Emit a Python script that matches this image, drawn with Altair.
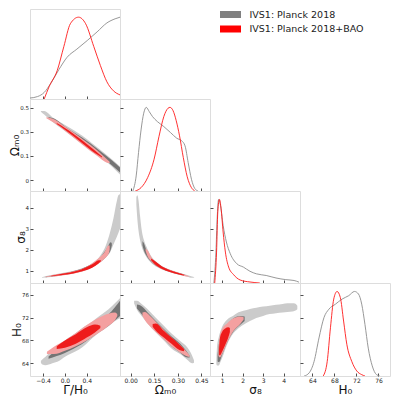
import altair as alt
import pandas as pd

W = 90
HEIGHTS = [90, 92, 92, 93]
FONT = "DejaVu Sans"

PARAM_ORDER = ["gam", "om", "s8", "h0"]
TITLES = {"gam": "Γ/H₀", "om": "Ωₘ₀", "s8": "σ₈", "h0": "H₀"}
DOMAINS = {"gam": [-0.64, 1.01], "om": [-0.068, 0.505], "s8": [0.41, 4.8], "h0": [61.75, 78.1]}
TICKS = {"gam": [-0.4, 0.0, 0.4], "om": [0.0, 0.15, 0.30, 0.45], "s8": [1, 2, 3, 4], "h0": [64, 68, 72, 76]}
XFMT = {"gam": ".1f", "om": ".2f", "s8": "d", "h0": "d"}
YFMT = {"gam": ".1f", "om": "~g", "s8": "d", "h0": "d"}
DENSITY_DOMAIN = [0, 1.1]

SERIES = ["IVS1: Planck 2018", "IVS1: Planck 2018+BAO"]
LINE_COLORS = ["#8c8c8c", "#ff1a1a"]
LEGEND_COLORS = ["#808080", "#ff0000"]
GRAY_FILLS = ["#cbcbcb", "#747474"]   # 2 sigma, 1 sigma
RED_FILLS = ["#f4a0a0", "#ee1c1c"]

# ---- 1D marginal curves (x, normalised density) ----
GAM_GRAY_X = [-0.64, -0.5, -0.38, -0.26, -0.11, 0.04, 0.22, 0.41, 0.59, 0.77, 0.92, 1.01]
GAM_GRAY_D = [0.012, 0.03, 0.08, 0.19, 0.36, 0.51, 0.61, 0.715, 0.82, 0.93, 0.98, 1.0]
GAM_RED_X = [-0.38, -0.29, -0.14, -0.02, 0.10, 0.25, 0.38, 0.53, 0.65, 0.77, 0.89, 1.01]
GAM_RED_D = [0.0, 0.15, 0.35, 0.64, 0.92, 1.0, 0.92, 0.64, 0.41, 0.21, 0.10, 0.05]

OM_GRAY_X = [0.014, 0.035, 0.05, 0.066, 0.083, 0.099, 0.118, 0.139, 0.170, 0.211, 0.253, 0.294, 0.325, 0.346, 0.366, 0.387, 0.408, 0.429]
OM_GRAY_D = [0.0, 0.18, 0.46, 0.73, 0.93, 1.0, 0.95, 0.89, 0.83, 0.77, 0.70, 0.63, 0.60, 0.54, 0.34, 0.14, 0.03, 0.0]
OM_RED_X = [0.029, 0.066, 0.108, 0.149, 0.180, 0.211, 0.238, 0.250, 0.270, 0.29, 0.311, 0.335, 0.36, 0.387, 0.408]
OM_RED_D = [0.0, 0.04, 0.16, 0.38, 0.65, 0.89, 0.99, 1.0, 0.96, 0.84, 0.66, 0.40, 0.17, 0.04, 0.0]

S8_GRAY_X = [0.60, 0.70, 0.76, 0.83, 0.92, 1.05, 1.21, 1.40, 1.72, 2.04, 2.36, 2.67, 3.15, 3.63, 4.11, 4.51, 4.75]
S8_GRAY_D = [0.0, 0.37, 0.77, 1.0, 0.93, 0.69, 0.49, 0.35, 0.23, 0.19, 0.14, 0.11, 0.09, 0.06, 0.04, 0.03, 0.01]
S8_RED_X = [0.64, 0.73, 0.79, 0.87, 0.95, 1.05, 1.16, 1.32, 1.56, 1.88, 2.36, 2.84]
S8_RED_D = [0.0, 0.37, 0.85, 1.0, 0.89, 0.61, 0.37, 0.19, 0.10, 0.036, 0.012, 0.0]

H0_GRAY_X = [62.5, 63.4, 64.3, 65.2, 66.1, 67.0, 68.2, 69.4, 70.6, 71.65, 72.37, 72.96, 73.55, 74.15, 74.87, 75.65, 76.24]
H0_GRAY_D = [0.0, 0.036, 0.17, 0.45, 0.69, 0.79, 0.85, 0.91, 0.95, 1.0, 0.97, 0.85, 0.61, 0.33, 0.12, 0.016, 0.0]
H0_RED_X = [65.97, 66.69, 67.28, 67.88, 68.48, 69.07, 69.67, 70.27, 71.17, 72.06, 72.96, 73.55]
H0_RED_D = [0.0, 0.17, 0.57, 0.91, 1.0, 0.93, 0.65, 0.37, 0.17, 0.06, 0.016, 0.0]

# ---- 2D contour bands: (x, lower y, upper y) ----
OM_GAM_GRAY2 = [(-0.44, 0.426, 0.430), (-0.38, 0.408, 0.430), (-0.23, 0.363, 0.392), (0.01, 0.303, 0.342),
                (0.32, 0.224, 0.276), (0.62, 0.15, 0.196), (0.86, 0.085, 0.13), (1.01, 0.035, 0.085)]
OM_GAM_GRAY1 = [(-0.3, 0.387, 0.393), (-0.2, 0.362, 0.383), (0.0, 0.312, 0.334), (0.32, 0.23, 0.263),
                (0.62, 0.155, 0.188), (0.86, 0.093, 0.123), (1.01, 0.048, 0.078)]
OM_GAM_RED2 = [(-0.34, 0.385, 0.391), (-0.2, 0.357, 0.379), (0.0, 0.307, 0.333), (0.32, 0.22, 0.256),
               (0.6, 0.148, 0.183), (0.76, 0.11, 0.133), (0.82, 0.106, 0.114)]
OM_GAM_RED1 = [(-0.15, 0.349, 0.355), (0.0, 0.313, 0.325), (0.32, 0.23, 0.247), (0.55, 0.169, 0.184), (0.68, 0.141, 0.147)]

S8_GAM_GRAY2 = [(-0.42, 0.66, 0.69), (-0.3, 0.68, 0.77), (-0.1, 0.76, 0.86), (0.1, 0.86, 0.96), (0.3, 0.98, 1.1),
                (0.5, 1.17, 1.35), (0.65, 1.4, 1.72), (0.75, 1.64, 2.2), (0.83, 1.88, 2.85), (0.89, 2.25, 3.5),
                (0.95, 2.6, 4.3), (0.98, 2.8, 4.6), (1.01, 3.0, 4.65)]
S8_GAM_GRAY1 = [(-0.35, 0.69, 0.71), (0.0, 0.80, 0.88), (0.4, 1.05, 1.2), (0.65, 1.42, 1.62), (0.78, 1.75, 2.1),
                (0.84, 2.0, 2.35), (0.86, 2.2, 2.3)]
S8_GAM_RED2 = [(-0.36, 0.69, 0.71), (-0.2, 0.72, 0.80), (0.1, 0.83, 0.93), (0.4, 1.03, 1.18), (0.6, 1.3, 1.55),
               (0.72, 1.55, 1.85), (0.8, 1.8, 2.2), (0.82, 2.0, 2.2)]
S8_GAM_RED1 = [(-0.25, 0.73, 0.76), (0.0, 0.80, 0.87), (0.3, 0.96, 1.06), (0.5, 1.14, 1.3), (0.62, 1.35, 1.5), (0.66, 1.45, 1.5)]

H0_GAM_GRAY2 = [(-0.44, 64.1, 64.4), (-0.41, 63.75, 64.7), (-0.36, 63.65, 65.1), (-0.23, 64.0, 66.4), (-0.11, 64.4, 67.2),
                (0.01, 65.2, 68.1), (0.2, 66.1, 69.3), (0.32, 66.8, 70.2), (0.5, 68.4, 71.3), (0.62, 69.3, 72.2),
                (0.8, 70.5, 73.5), (0.86, 71.0, 74.0), (1.01, 71.9, 75.4)]
H0_GAM_GRAY1 = [(-0.3, 64.8, 65.2), (0.0, 65.8, 67.4), (0.3, 67.3, 69.3), (0.6, 69.3, 71.2), (0.8, 70.6, 72.6), (1.01, 72.3, 75.0)]
H0_GAM_RED2 = [(-0.33, 65.6, 66.0), (-0.2, 65.6, 66.9), (0.0, 66.2, 68.0), (0.2, 67.0, 69.3), (0.4, 68.0, 70.7),
               (0.6, 69.2, 71.9), (0.8, 70.6, 72.7), (0.92, 71.6, 72.9), (0.96, 72.3, 72.6)]
H0_GAM_RED1 = [(-0.15, 66.5, 67.0), (0.0, 66.7, 68.0), (0.2, 67.4, 69.1), (0.4, 68.5, 70.3), (0.55, 69.4, 70.8), (0.65, 70.2, 70.6)]

S8_OM_GRAY2 = [(0.036, 4.15, 4.5), (0.042, 3.5, 4.6), (0.05, 2.9, 4.35), (0.06, 2.45, 3.6), (0.07, 2.15, 2.95),
               (0.085, 1.85, 2.45), (0.1, 1.65, 2.15), (0.13, 1.38, 1.7), (0.17, 1.16, 1.38), (0.22, 0.99, 1.14),
               (0.27, 0.87, 1.0), (0.32, 0.78, 0.88), (0.36, 0.71, 0.79), (0.39, 0.66, 0.72), (0.405, 0.67, 0.69)]
S8_OM_GRAY1 = [(0.075, 2.2, 2.4), (0.085, 1.95, 2.3), (0.1, 1.72, 1.98), (0.13, 1.42, 1.6), (0.17, 1.2, 1.33),
               (0.22, 1.02, 1.11), (0.27, 0.9, 0.97), (0.32, 0.8, 0.86), (0.35, 0.75, 0.79)]
S8_OM_RED2 = [(0.095, 1.95, 2.05), (0.11, 1.65, 1.95), (0.13, 1.45, 1.65), (0.17, 1.2, 1.34), (0.22, 1.02, 1.12),
              (0.27, 0.89, 0.98), (0.32, 0.79, 0.86), (0.36, 0.72, 0.77), (0.375, 0.72, 0.73)]
S8_OM_RED1 = [(0.13, 1.5, 1.58), (0.15, 1.33, 1.48), (0.2, 1.08, 1.2), (0.25, 0.93, 1.02), (0.3, 0.83, 0.9), (0.34, 0.77, 0.8)]

H0_OM_GRAY2 = [(0.022, 74.5, 75.0), (0.04, 73.4, 75.0), (0.07, 72.3, 74.4), (0.108, 71.0, 73.5), (0.16, 69.4, 72.0),
               (0.211, 68.0, 70.6), (0.26, 66.6, 69.2), (0.315, 65.6, 67.9), (0.36, 64.6, 66.8), (0.39, 64.0, 65.4),
               (0.403, 64.1, 64.5)]
H0_OM_GRAY1 = [(0.04, 73.6, 74.3), (0.07, 72.6, 74.0), (0.108, 71.3, 72.9), (0.16, 69.7, 71.4), (0.211, 68.3, 70.0),
               (0.26, 67.0, 68.7), (0.315, 65.9, 67.4), (0.35, 65.1, 66.3), (0.375, 65.0, 65.3)]
H0_OM_RED2 = [(0.075, 72.4, 72.9), (0.09, 71.6, 73.0), (0.12, 70.6, 72.4), (0.16, 69.5, 71.3), (0.211, 68.2, 69.9),
              (0.26, 67.0, 68.5), (0.315, 65.9, 67.2), (0.35, 65.3, 66.2), (0.375, 65.1, 65.4)]
H0_OM_RED1 = [(0.14, 70.4, 70.9), (0.16, 69.7, 71.0), (0.211, 68.5, 69.7), (0.26, 67.4, 68.5), (0.31, 66.3, 67.3), (0.34, 66.1, 66.5)]

H0_S8_GRAY2 = [(0.72, 63.9, 64.5), (0.75, 63.6, 66.8), (0.84, 63.6, 68.6), (0.92, 64.2, 69.6), (1.0, 64.9, 70.4),
               (1.24, 67.26, 71.64), (1.56, 69.3, 72.4), (1.72, 69.9, 72.8), (2.04, 70.76, 73.2), (2.36, 71.4, 73.55),
               (2.67, 71.93, 73.75), (3.0, 72.3, 73.97), (3.32, 72.63, 74.12), (3.63, 72.8, 74.26), (3.95, 72.91, 74.4),
               (4.19, 73.0, 74.55), (4.43, 73.09, 74.55), (4.55, 73.2, 74.5), (4.67, 73.5, 74.1)]
H0_S8_GRAY1 = [(0.78, 64.3, 65.5), (0.85, 64.2, 67.5), (1.0, 65.5, 69.4), (1.24, 67.6, 70.7), (1.56, 69.6, 71.9),
               (1.9, 70.8, 72.3), (2.1, 71.4, 72.2)]
H0_S8_RED2 = [(0.82, 65.3, 66.5), (0.9, 65.0, 69.0), (1.0, 65.6, 70.0), (1.24, 67.6, 71.0), (1.56, 69.7, 71.9),
              (1.9, 71.0, 72.2), (2.05, 71.7, 72.1)]
H0_S8_RED1 = [(0.85, 65.5, 66.5), (0.9, 65.4, 68.5), (1.0, 66.0, 69.5), (1.15, 67.2, 70.1), (1.3, 68.5, 70.3), (1.38, 69.5, 70.2)]

CURVES_1D = {
    "gam": (GAM_GRAY_X, GAM_GRAY_D, GAM_RED_X, GAM_RED_D),
    "om": (OM_GRAY_X, OM_GRAY_D, OM_RED_X, OM_RED_D),
    "s8": (S8_GRAY_X, S8_GRAY_D, S8_RED_X, S8_RED_D),
    "h0": (H0_GRAY_X, H0_GRAY_D, H0_RED_X, H0_RED_D),
}
BANDS_2D = {
    ("om", "gam"): [OM_GAM_GRAY2, OM_GAM_GRAY1, OM_GAM_RED2, OM_GAM_RED1],
    ("s8", "gam"): [S8_GAM_GRAY2, S8_GAM_GRAY1, S8_GAM_RED2, S8_GAM_RED1],
    ("h0", "gam"): [H0_GAM_GRAY2, H0_GAM_GRAY1, H0_GAM_RED2, H0_GAM_RED1],
    ("s8", "om"): [S8_OM_GRAY2, S8_OM_GRAY1, S8_OM_RED2, S8_OM_RED1],
    ("h0", "om"): [H0_OM_GRAY2, H0_OM_GRAY1, H0_OM_RED2, H0_OM_RED1],
    ("h0", "s8"): [H0_S8_GRAY2, H0_S8_GRAY1, H0_S8_RED2, H0_S8_RED1],
}
BAND_FILLS = [GRAY_FILLS[0], GRAY_FILLS[1], RED_FILLS[0], RED_FILLS[1]]

AXIS_STYLE = dict(domain=False, grid=False, offset=-3, tickSize=3, tickWidth=0.8, tickColor="#222222",
                  labelFont=FONT, labelColor="#222222", labelPadding=1.5, labelFlush=False,
                  labelOverlap=False, titleFont=FONT, titleFontSize=12, titleFontWeight="normal",
                  titleColor="#111111")


def scale(p):
    return alt.Scale(domain=DOMAINS[p], nice=False, zero=False)


def x_enc(p, show, field="x"):
    return alt.X(f"{field}:Q", scale=scale(p),
                 axis=alt.Axis(values=TICKS[p], format=XFMT[p], labels=show, labelFontSize=6, titlePadding=1,
                               title=TITLES[p] if show else "", **AXIS_STYLE))


def y_axis(p, show):
    return alt.Axis(values=TICKS[p], format=YFMT[p], labels=show, labelFontSize=5.5, orient="left",
                    titlePadding=-2, title=TITLES[p] if show else "", **AXIS_STYLE)


def panel_2d(xp, yp, row, col):
    layers = []
    for pts, fill in zip(BANDS_2D[(yp, xp)], BAND_FILLS):
        df = pd.DataFrame(pts, columns=["x", "lo", "hi"])
        layers.append(
            alt.Chart(df).mark_area(color=fill, opacity=1, orient="vertical", interpolate="monotone", clip=True)
            .encode(x=x_enc(xp, row == 3),
                    y=alt.Y("lo:Q", scale=scale(yp), axis=y_axis(yp, col == 0)),
                    y2="hi:Q"))
    return alt.layer(*layers).properties(width=W, height=HEIGHTS[row])


def panel_1d(p, row):
    gx, gd, rx, rd = CURVES_1D[p]
    layers = []
    for xs, ds, c in [(gx, gd, LINE_COLORS[0]), (rx, rd, LINE_COLORS[1])]:
        df = pd.DataFrame({"x": xs, "d": ds})
        layers.append(
            alt.Chart(df).mark_line(color=c, strokeWidth=0.9, interpolate="monotone", clip=True)
            .encode(x=x_enc(p, row == 3),
                    y=alt.Y("d:Q", scale=alt.Scale(domain=DENSITY_DOMAIN, nice=False, zero=False), axis=None)))
    if row > 0:
        tdf = pd.DataFrame({"v": [DOMAINS[p][0]]})
        layers.append(alt.Chart(tdf).mark_point(opacity=0)
                      .encode(y=alt.Y("v:Q", scale=scale(p), axis=y_axis(p, False))))
        return alt.layer(*layers).resolve_scale(y="independent").properties(width=W, height=HEIGHTS[row])
    return alt.layer(*layers).properties(width=W, height=HEIGHTS[row])


def blank(row):
    df = pd.DataFrame({"v": [0]})
    return (alt.Chart(df).mark_point(opacity=0)
            .encode(x=alt.X("v:Q", axis=None), y=alt.Y("v:Q", axis=None))
            .properties(width=W, height=HEIGHTS[row], view=alt.ViewBackground(strokeOpacity=0)))


def legend_panel():
    df = pd.DataFrame({"series": SERIES, "i": [0, 1]})
    y = alt.Y("i:Q", scale=alt.Scale(domain=[0, 1], range=[5.5, 20]), axis=None)
    color = alt.Color("series:N", scale=alt.Scale(domain=SERIES, range=LEGEND_COLORS), legend=None)
    swatch = alt.Chart(df).mark_tick(thickness=7, size=21, orient="horizontal", opacity=1).encode(
        x=alt.value(20.5), y=y, color=color)
    label = alt.Chart(df).mark_text(align="left", baseline="middle", font=FONT, fontSize=9.5, color="#222222").encode(
        x=alt.value(39.5), y=y, text="series:N")
    return alt.layer(swatch, label).properties(width=W, height=HEIGHTS[0], view=alt.ViewBackground(strokeOpacity=0))


panels = []
for r, yp in enumerate(PARAM_ORDER):
    for c, xp in enumerate(PARAM_ORDER):
        if r == c:
            panels.append(panel_1d(xp, r))
        elif r > c:
            panels.append(panel_2d(xp, yp, r, c))
        elif r == 0 and c == 2:
            panels.append(legend_panel())
        else:
            panels.append(blank(r))

chart = (alt.concat(*panels, columns=4, spacing=0, bounds="flush", align="each")
         .properties(padding=0)
         .configure_view(stroke="#222222", strokeWidth=1)
         .configure(font=FONT))

chart.save("out.html", embed_options={"renderer": "svg", "actions": False})
